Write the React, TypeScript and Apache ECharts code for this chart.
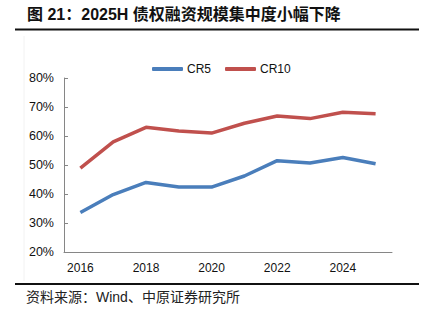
import React, { useEffect, useRef } from "react";
import * as echarts from "echarts";

const years = ["2016", "2017", "2018", "2019", "2020", "2021", "2022", "2023", "2024", "2025"];
const cr5 = [33.6, 39.8, 44.0, 42.4, 42.4, 46.2, 51.5, 50.7, 52.6, 50.4];
const cr10 = [48.9, 58.0, 63.0, 61.7, 61.0, 64.4, 66.9, 66.0, 68.2, 67.7];
const titleText = "图 21：2025H 债权融资规模集中度小幅下降";
const sourceText = "资料来源：Wind、中原证券研究所";

const FONT = "Arial, 'Liberation Sans', 'Noto Sans CJK SC', sans-serif";

export default function App() {
  const ref = useRef<HTMLDivElement>(null);
  useEffect(() => {
    if (!ref.current) return;
    const chart = echarts.init(ref.current, null, { renderer: "svg" });
    chart.setOption({
      animation: false,
      backgroundColor: "#ffffff",
      textStyle: { fontFamily: FONT },
      graphic: [
        {
          type: "text",
          left: 27,
          top: 6,
          style: {
            text: titleText,
            font: `bold 16px ${FONT}`,
            fill: "#111111",
          },
        },
        {
          type: "rect",
          shape: { x: 15, y: 28.5, width: 404, height: 2 },
          style: { fill: "#111111" },
        },
        {
          type: "line",
          shape: { x1: 24, y1: 36, x2: 24, y2: 281 },
          style: { stroke: "#f2f2f2", lineWidth: 1 },
        },
        {
          type: "rect",
          shape: { x: 15, y: 283, width: 404, height: 2 },
          style: { fill: "#111111" },
        },
        {
          type: "text",
          left: 26,
          top: 290,
          style: {
            text: sourceText,
            font: `14px ${FONT}`,
            fill: "#222222",
          },
        },
      ],
      legend: {
        top: 58,
        left: 147,
        icon: "roundRect",
        itemWidth: 31,
        itemHeight: 4,
        itemGap: 14,
        textStyle: { fontSize: 12, color: "#111", fontFamily: FONT, padding: [0, 0, 0, -1] },
        data: ["CR5", "CR10"],
      },
      grid: { left: 64, right: 33, top: 78, bottom: 73, containLabel: false },
      xAxis: {
        type: "category",
        data: years,
        boundaryGap: true,
        axisLine: { lineStyle: { color: "#868686", width: 1 } },
        axisTick: { inside: true, length: 4, lineStyle: { color: "#868686" } },
        axisLabel: { interval: 1, fontSize: 12, color: "#111", margin: 10, fontFamily: FONT },
        splitLine: { show: false },
      },
      yAxis: {
        type: "value",
        min: 20,
        max: 80,
        interval: 10,
        axisLine: { show: true, lineStyle: { color: "#868686", width: 1 } },
        axisTick: { show: true, inside: true, length: 4, lineStyle: { color: "#868686" } },
        axisLabel: { formatter: "{value}%", fontSize: 12.5, color: "#111", margin: 10, fontFamily: FONT },
        splitLine: { show: false },
      },
      series: [
        {
          name: "CR5",
          type: "line",
          data: cr5,
          showSymbol: false,
          symbol: "none",
          lineStyle: { color: "#4a7ebb", width: 3.5 },
          itemStyle: { color: "#4a7ebb" },
        },
        {
          name: "CR10",
          type: "line",
          data: cr10,
          showSymbol: false,
          symbol: "none",
          lineStyle: { color: "#c0504d", width: 3.5 },
          itemStyle: { color: "#c0504d" },
        },
      ],
    });
    return () => chart.dispose();
  }, []);
  return <div ref={ref} style={{ width: 425, height: 325, position: "absolute", left: 0, top: 0 }} />;
}
